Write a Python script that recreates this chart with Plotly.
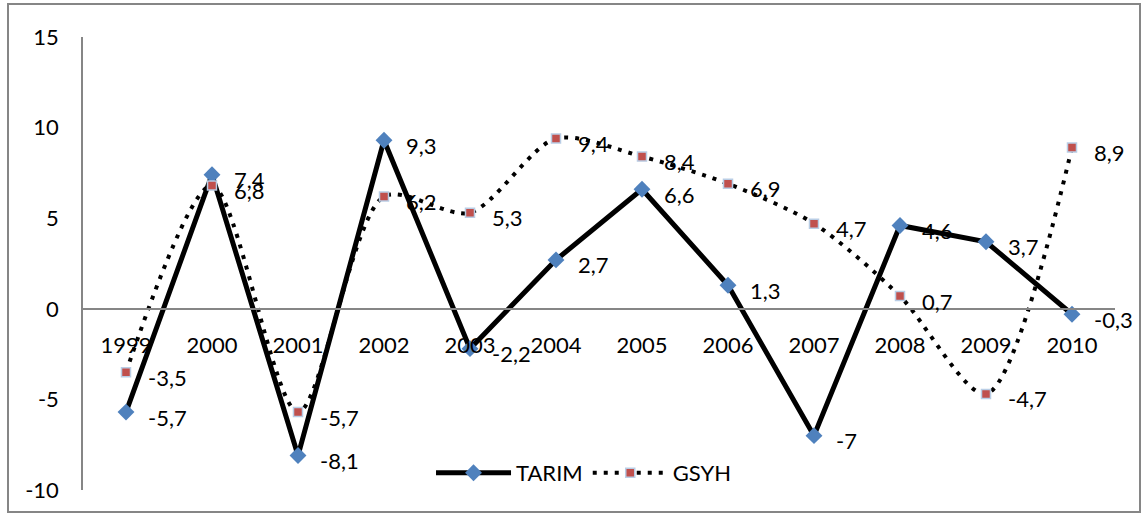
import plotly.graph_objects as go

years = ["1999", "2000", "2001", "2002", "2003", "2004", "2005", "2006", "2007", "2008", "2009", "2010"]
tarim = [-5.7, 7.4, -8.1, 9.3, -2.2, 2.7, 6.6, 1.3, -7, 4.6, 3.7, -0.3]
gsyh = [-3.5, 6.8, -5.7, 6.2, 5.3, 9.4, 8.4, 6.9, 4.7, 0.7, -4.7, 8.9]
y_ticks = [-10, -5, 0, 5, 10, 15]

FONT = "Lato"
FS = 22
W, H = 1144, 515
L, R, T, B = 83, 29, 37, 25
pw, ph = W - L - R, H - T - B


def fmt(v):
    return ("%g" % v).replace(".", ",")


fig = go.Figure()
fig.add_trace(go.Scatter(
    x=years, y=tarim, name="TARIM", mode="lines+markers",
    line=dict(color="black", width=5),
    marker=dict(symbol="diamond", size=13, color="#4F81BD"),
))
fig.add_trace(go.Scatter(
    x=years, y=gsyh, name="GSYH", mode="lines+markers",
    line=dict(color="black", width=4, dash="4px,7px", shape="spline", smoothing=0.8),
    marker=dict(symbol="square", size=9, color="#C0504D",
                line=dict(color="#B9CDE5", width=1.5)),
))

for series in (tarim, gsyh):
    for i, v in enumerate(series):
        fig.add_annotation(
            x=i, y=v, xref="x", yref="y", text=fmt(v), showarrow=False,
            xanchor="left", yanchor="middle", xshift=20, yshift=-5,
            font=dict(family=FONT, size=FS, color="black"),
        )

fig.update_layout(
    width=W, height=H,
    margin=dict(l=L, r=R, t=T, b=B),
    paper_bgcolor="white", plot_bgcolor="white",
    font=dict(family=FONT, size=FS, color="black"),
    showlegend=True,
    legend=dict(orientation="h", x=0.485, xanchor="center", y=(490 - 473) / ph,
                yanchor="middle", bgcolor="rgba(0,0,0,0)",
                font=dict(family=FONT, size=FS, color="black"),
                itemwidth=75, traceorder="normal"),
    xaxis=dict(type="category", range=[-0.5, 11.5], anchor="free", position=0.4,
               showline=True, linecolor="#868686", linewidth=1.5,
               showgrid=False, zeroline=False, ticks="outside", ticklen=0,
               ticklabelstandoff=17,
               tickfont=dict(family=FONT, size=FS, color="black")),
    yaxis=dict(range=[-10, 15], tickvals=y_ticks, ticktext=[str(t) for t in y_ticks],
               showline=True, linecolor="#868686",
               linewidth=1.5, showgrid=False, zeroline=False, ticks="", ticklabelstandoff=18,
               tickfont=dict(family=FONT, size=FS, color="black")),
    shapes=[dict(type="rect", xref="paper", yref="paper",
                 x0=(8 - L) / pw, x1=(1140 - L) / pw,
                 y0=(490 - 512) / ph, y1=(490 - 4) / ph,
                 line=dict(color="#868686", width=2), fillcolor="rgba(0,0,0,0)",
                 layer="below")],
)

fig.write_html("out.html", config={"displayModeBar": False},
               post_script="document.body.style.margin='0';")
